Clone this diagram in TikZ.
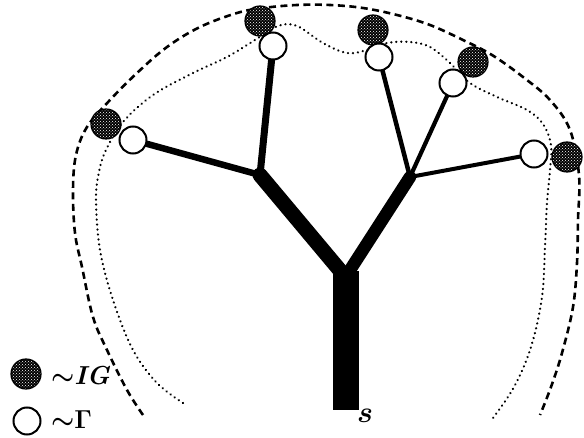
\RequirePackage{fix-cm}
\documentclass[tikz,border=0pt]{standalone}
\usepackage{amsmath}
\usepackage{bm}
\usepackage{fontspec}
\usetikzlibrary{patterns,backgrounds}
\tikzset{
  igball/.style={circle,draw=black,line width=1.2pt,minimum size=30pt,inner sep=0pt,
    preaction={fill=black},pattern=crosshatch dots,pattern color=white},
  gball/.style={circle,draw=black,line width=2pt,fill=white,minimum size=27pt,inner sep=0pt},
  branch/.style={line cap=round,draw=black},
  outerline/.style={line width=2.6pt,dash pattern=on 7pt off 4.5pt},
  innerline/.style={line width=2.4pt,dash pattern=on 0.1pt off 4.9pt,line cap=round},
  lbl/.style={inner sep=0pt,anchor=west,font=\fontsize{26}{26}\selectfont\boldmath}
}
\begin{document}
\begin{tikzpicture}[x=1pt,y=-1pt]
\useasboundingbox (0,0) rectangle (584,438);
% boundary curves
\draw[outerline] plot[smooth,tension=0.6] coordinates {(143,415) (127,390) (107,350) (93,317) (82,267) (75,233) (73,190) (76,155) (87,127) (110,100) (137,73) (167,47) (200,27) (237,13) (263,8) (297,5) (330,5) (363,8) (397,15) (430,25) (463,40) (492,55) (523,77) (550,100) (570,130) (579,175) (578,220) (577,263) (573,307) (562,353) (551,387) (540,415)};
\draw[innerline] plot[smooth,tension=0.6] coordinates {(183,403) (157,383) (133,350) (113,300) (100,250) (96,200) (99,172) (106,150) (123,122) (153,95) (193,73) (227,57) (255,40) (278,26) (297,26) (323,43) (347,53) (367,50) (387,43) (410,42) (430,47) (450,63) (470,83) (497,97) (527,110) (543,124) (551,145) (550,170) (547,203) (545,247) (542,297) (531,347) (514,387) (493,418)};
% tree joints
\coordinate (b) at (345.5,410);
\coordinate (j) at (345.5,277);
\coordinate (l) at (260,175);
\coordinate (r) at (410,177);
% grey (IG) balls
\node[igball] (g1) at (106,124) {};
\node[igball] (g2) at (260,21) {};
\node[igball] (g3) at (373,30) {};
\node[igball] (g4) at (473,62) {};
\node[igball] (g5) at (567,157) {};
% white (Gamma) balls
\node[gball] (w1) at (133,140) {};
\node[gball] (w2) at (273,46) {};
\node[gball] (w3) at (379,57) {};
\node[gball] (w4) at (453,83) {};
\node[gball] (w5) at (534,154) {};
\begin{scope}[on background layer]
\draw[line width=26pt] (b) -- ([yshift=6pt]j);
\draw[branch,line width=15pt] (j) -- (l);
\draw[branch,line width=12.5pt] (j) -- (r);
\draw[branch,line width=7pt] (l) -- (w2);
\draw[branch,line width=6.5pt] (l) -- (w1);
\draw[branch,line width=4.5pt] (r) -- (w3);
\draw[branch,line width=4.2pt] (r) -- (w4);
\draw[branch,line width=4pt] (r) -- (w5);
\end{scope}
\node[inner sep=0pt,font=\fontsize{30}{30}\selectfont\boldmath] (s) at (365,416) {$s$};
% legend
\node[igball] (lg) at (26,374) {};
\node[gball] (lw) at (27,421) {};
\node[lbl] (lgt) at (51,376) {$\sim$\textbf{\textit{IG}}};
\node[lbl] (lwt) at (51,420) {$\mathord{\sim}\mathbf{\Gamma}$};
\end{tikzpicture}
\end{document}
